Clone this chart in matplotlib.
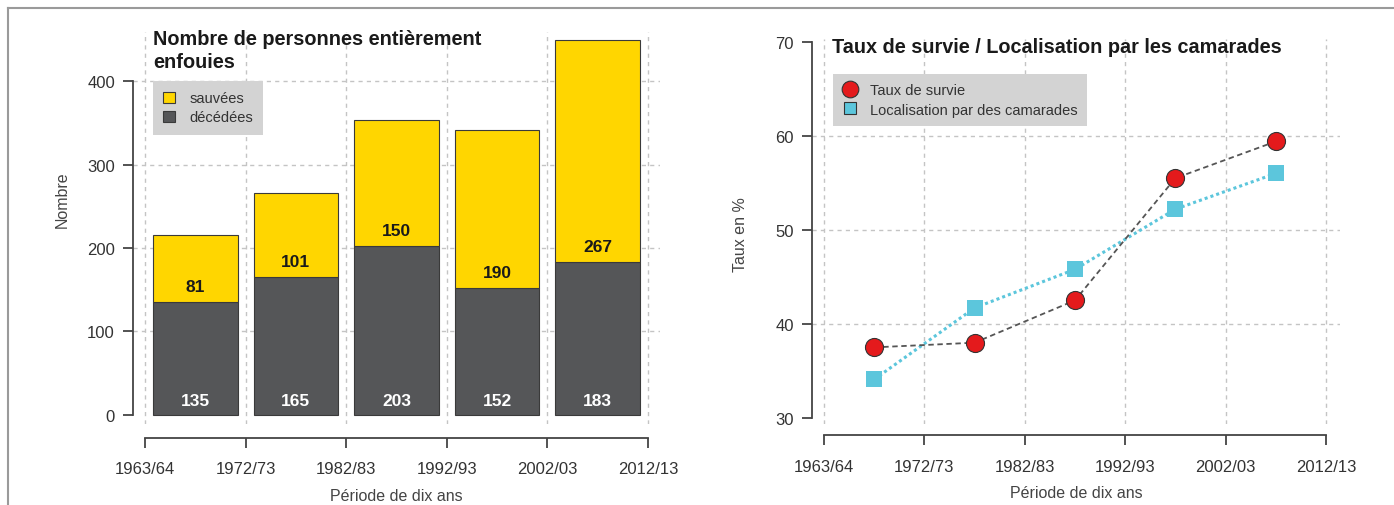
import matplotlib
matplotlib.use("Agg")
import matplotlib.pyplot as plt
from matplotlib.lines import Line2D
from matplotlib.patches import Patch
import numpy as np

plt.rcParams['font.family'] = ['Liberation Sans', 'DejaVu Sans']

periods = ["1963/64", "1972/73", "1982/83", "1992/93", "2002/03", "2012/13"]
decedees = [135, 165, 203, 152, 183]
sauvees = [81, 101, 150, 190, 267]
taux_survie = [37.5, 38.0, 42.5, 55.5, 59.4]
localisation = [34.1, 41.7, 45.8, 52.2, 56.0]

YELLOW = "#FFD600"
DARK = "#555658"
RED = "#E41A1C"
BLUE = "#5CC6DC"
TXT = "#333333"
GRID = "#C4C4C4"

W, H = 1394, 506
fig = plt.figure(figsize=(W / 100, H / 100), dpi=100)

def frac_box(l, r, t, b):
    return [l / W, 1 - b / H, (r - l) / W, (b - t) / H]

ax1 = fig.add_axes(frac_box(133, 660, 33, 425))
ax2 = fig.add_axes(frac_box(812, 1340, 40, 425))

x = np.arange(len(decedees)) + 0.5

def style_axes(ax, yticks, ylim, xlim, xoff, hgrid):
    ax.set_xlim(*xlim)
    ax.set_ylim(*ylim)
    for s in ["top", "right"]:
        ax.spines[s].set_visible(False)
    ax.spines["left"].set_bounds(yticks[0], yticks[-1])
    ax.spines["bottom"].set_bounds(0, 5)
    ax.spines["bottom"].set_position(("outward", xoff))
    for s in ["left", "bottom"]:
        ax.spines[s].set_color("#444444")
        ax.spines[s].set_linewidth(1.3)
    ax.set_yticks(yticks)
    ax.set_xticks(range(6))
    ax.set_xticklabels(periods)
    ax.tick_params(axis="y", length=7, width=1.3, color="#444444", pad=6,
                   labelsize=12, labelcolor=TXT)
    ax.tick_params(axis="x", length=7, width=1.3, color="#444444", pad=10,
                   labelsize=12, labelcolor=TXT)
    for xv in range(6):
        ax.axvline(xv, color=GRID, lw=1, ls=(0, (3, 3)), zorder=0)
    for yv in hgrid:
        ax.axhline(yv, color=GRID, lw=1, ls=(0, (3, 3)), zorder=0)
    ax.set_xlabel("Période de dix ans", fontsize=11.5, color="#444444", labelpad=8)

# Left: stacked bars
style_axes(ax1, [0, 100, 200, 300, 400], (-11, 459), (-0.12, 5.12), 10,
           [100, 200, 300, 400])
ax1.bar(x, decedees, width=0.84, color=DARK, edgecolor="#3a3a3a", lw=0.8,
        label="décédées", zorder=2)
ax1.bar(x, sauvees, bottom=decedees, width=0.84, color=YELLOW,
        edgecolor="#3a3a3a", lw=0.8, label="sauvées", zorder=2)
for xi, d, s in zip(x, decedees, sauvees):
    ax1.annotate(str(s), (xi, d), xytext=(0, 11), textcoords="offset points",
                 ha="center", va="center", fontsize=12.5, fontweight="bold",
                 color="#1a1a1a", zorder=3)
    ax1.annotate(str(d), (xi, 0), xytext=(0, 10), textcoords="offset points",
                 ha="center", va="center", fontsize=12.5, fontweight="bold",
                 color="white", zorder=3)
ax1.set_ylabel("Nombre", fontsize=11.5, color="#444444")
ax1.yaxis.set_label_coords((70 - 133) / 527, (425 - 200) / 392)

h1 = [Patch(facecolor=YELLOW, edgecolor="#3a3a3a", lw=0.8),
      Patch(facecolor=DARK, edgecolor="#3a3a3a", lw=0.8)]
leg1 = ax1.legend(h1, ["sauvées", "décédées"], loc="upper left",
                  bbox_to_anchor=(153 / W, 1 - 82 / H), bbox_transform=fig.transFigure,
                  borderaxespad=0, frameon=True, fancybox=False, facecolor="#D3D3D3",
                  edgecolor="none", framealpha=1, fontsize=10.5, labelspacing=0.35,
                  handlelength=0.8, handleheight=0.8, handletextpad=1.0,
                  borderpad=0.7, labelcolor=TXT)
leg1.get_frame().set_linewidth(0)

fig.text(153 / W, 1 - 30 / H, "Nombre de personnes entièrement\nenfouies",
         ha="left", va="top", fontsize=14.3, fontweight="bold", color="#1a1a1a",
         linespacing=1.3)

# Right: lines
style_axes(ax2, [30, 40, 50, 60, 70], (29.35, 70.3), (-0.12, 5.14), 8,
           [40, 50, 60])
ax2.plot(x, taux_survie, ls=(0, (3, 2)), color="#555555", lw=1.3, marker="o",
         markersize=13, markerfacecolor=RED, markeredgecolor="#333333",
         markeredgewidth=0.8, zorder=4)
ax2.plot(x, localisation, ls=(0, (1, 1)), color=BLUE, lw=2.2, marker="s",
         markersize=11, markerfacecolor=BLUE, markeredgecolor=BLUE,
         markeredgewidth=0, zorder=3)
ax2.set_ylabel("Taux en %", fontsize=11.5, color="#444444")
ax2.yaxis.set_label_coords((748 - 812) / 528, (425 - 235) / 385)

h2 = [Line2D([], [], ls="none", marker="o", markersize=12, markerfacecolor=RED,
             markeredgecolor="#333333", markeredgewidth=0.8),
      Line2D([], [], ls="none", marker="s", markersize=9, markerfacecolor=BLUE,
             markeredgecolor="#333333", markeredgewidth=0.8)]
leg2 = ax2.legend(h2, ["Taux de survie", "Localisation par des camarades"],
                  loc="upper left", bbox_to_anchor=(833 / W, 1 - 75 / H),
                  bbox_transform=fig.transFigure, borderaxespad=0, frameon=True,
                  fancybox=False, facecolor="#D3D3D3", edgecolor="none",
                  framealpha=1, fontsize=10.5, labelspacing=0.35, handlelength=1.0,
                  handletextpad=0.9, borderpad=0.65, labelcolor=TXT)
leg2.get_frame().set_linewidth(0)

fig.text(832 / W, 1 - 38 / H, "Taux de survie / Localisation par les camarades",
         ha="left", va="top", fontsize=14.3, fontweight="bold", color="#1a1a1a")

# outer frame lines (top and left)
fig.add_artist(Line2D([8 / W, 1], [1 - 9 / H, 1 - 9 / H], color="#9a9a9a", lw=1.5,
                      transform=fig.transFigure))
fig.add_artist(Line2D([8 / W, 8 / W], [0, 1 - 9 / H], color="#9a9a9a", lw=1.5,
                      transform=fig.transFigure))

fig.savefig("out.png", dpi=100)
